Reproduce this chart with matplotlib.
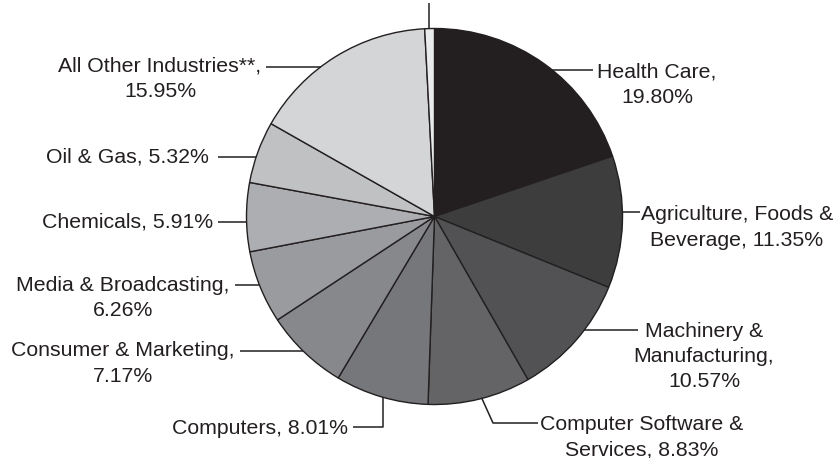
import numpy as np
import matplotlib
matplotlib.use("Agg")
import matplotlib.pyplot as plt

plt.rcParams['font.family'] = ['Liberation Sans', 'DejaVu Sans']

# industry shares, clockwise from 12 o'clock
industries = ['Health Care', 'Agriculture, Foods & Beverage', 'Machinery & Manufacturing',
              'Computer Software & Services', 'Computers', 'Consumer & Marketing',
              'Media & Broadcasting', 'Chemicals', 'Oil & Gas', 'All Other Industries**',
              'Remainder']
shares = [19.80, 11.35, 10.57, 8.83, 8.01, 7.17, 6.26, 5.91, 5.32, 15.95, 0.83]
shades = ['#231f20', '#3d3d3e', '#525254', '#646466', '#76777a', '#87888b',
          '#9a9b9e', '#adaeb1', '#c0c1c3', '#d4d5d7', '#e9eaeb']

W, H = 835, 458
fig = plt.figure(figsize=(W / 100, H / 100), dpi=100)
ax = fig.add_axes([0, 0, 1, 1])

cx, cy, R = 434.5, 216.5, 188
ink = '#231f20'

# y axis runs downward (pixel style), so startangle -90 / counterclock=True
# renders as clockwise from the top
ax.pie(shares, colors=shades, startangle=-90, counterclock=True,
       center=(cx, cy), radius=R,
       wedgeprops=dict(edgecolor=ink, linewidth=1.0))
ax.set_xlim(0, W)
ax.set_ylim(H, 0)
ax.set_aspect('auto')
ax.axis('off')


def rim_x(y, side):
    return cx + side * np.sqrt(R ** 2 - (y - cy) ** 2)


def rim_y(x):
    return cy + np.sqrt(R ** 2 - (x - cx) ** 2)


def lab(share):
    return f'{share:.2f}%'


fs = 15.3
ls = 1.42
tk = dict(color=ink, lw=1.1, solid_capstyle='butt')

# left-hand labels
ax.text(160, 79, f'{industries[9]},\n{lab(shares[9])}', ha='center', va='center',
        fontsize=fs, linespacing=ls, color=ink)
ax.plot([266, rim_x(67, -1)], [67, 67], **tk)

ax.text(209, 157, f'{industries[8]}, {lab(shares[8])}', ha='right', va='center',
        fontsize=fs, color=ink)
ax.plot([218, rim_x(157, -1)], [157, 157], **tk)

ax.text(213, 222, f'{industries[7]}, {lab(shares[7])}', ha='right', va='center',
        fontsize=fs, color=ink)
ax.plot([218, rim_x(222, -1)], [222, 222], **tk)

ax.text(123, 298, f'{industries[6]},\n{lab(shares[6])}', ha='center', va='center',
        fontsize=fs, linespacing=ls, color=ink)
ax.plot([235, rim_x(285, -1)], [285, 285], **tk)

ax.text(123, 363.5, f'{industries[5]},\n{lab(shares[5])}', ha='center', va='center',
        fontsize=fs, linespacing=ls, color=ink)
ax.plot([240, rim_x(351, -1)], [351, 351], **tk)

ax.text(348, 428, f'{industries[4]}, {lab(shares[4])}', ha='right', va='center',
        fontsize=fs, color=ink)
ax.plot([353, 383, 383], [427, 427, rim_y(383)], **tk)

# right-hand labels
ax.text(642, 437, 'Computer Software &\nServices, ' + lab(shares[3]), ha='center',
        va='center', fontsize=fs, linespacing=ls, color=ink)
ax.plot([rim_x(398, 1) - 2, 493, 538], [rim_y(485), 423, 423], **tk)

ax.text(704, 356.5, 'Machinery &\nManufacturing,\n' + lab(shares[2]), ha='center',
        va='center', fontsize=fs, linespacing=ls, color=ink)
ax.plot([rim_x(330, 1), 638], [330, 330], **tk)

ax.text(737, 227.5, 'Agriculture, Foods &\nBeverage, ' + lab(shares[1]), ha='center',
        va='center', fontsize=fs, linespacing=ls, color=ink)
ax.plot([rim_x(212, 1), 640], [212, 212], **tk)

ax.text(657, 85, f'{industries[0]},\n{lab(shares[0])}', ha='center', va='center',
        fontsize=fs, linespacing=ls, color=ink)
ax.plot([rim_x(70, 1), 593], [70, 70], **tk)

# leader for the thin sliver at the top
ax.plot([429, 429], [cy - np.sqrt(R ** 2 - (429 - cx) ** 2), 3], **tk)

fig.savefig('out.png', dpi=100, facecolor='white')
